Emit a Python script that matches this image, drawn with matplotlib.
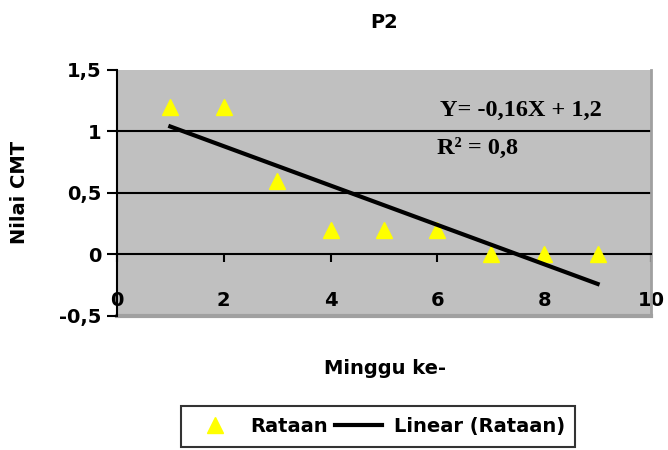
import numpy as np
import matplotlib.pyplot as plt

# data
minggu = [1, 2, 3, 4, 5, 6, 7, 8, 9]
rataan = [1.2, 1.2, 0.6, 0.2, 0.2, 0.2, 0.0, 0.0, 0.0]
xticks = [0, 2, 4, 6, 8, 10]
yticks = [-0.5, 0, 0.5, 1, 1.5]
ytick_labels = ['-0,5', '0', '0,5', '1', '1,5']

plt.rcParams['font.family'] = ['DejaVu Sans']
plt.rcParams['font.weight'] = 'bold'
fs = 14

fig = plt.figure(figsize=(6.68, 4.5), dpi=100)
ax = fig.add_axes([0.175, 0.298, 0.7996, 0.5466])
ax.set_facecolor('#c0c0c0')

# linear trend from the data
slope, intercept = np.polyfit(minggu, rataan, 1)
xs = np.array([minggu[0], minggu[-1]])
ax.plot(minggu, rataan, linestyle='none', marker='^', color='#ffff00',
        markersize=12, markeredgecolor='#ffff00', label='Rataan', zorder=3)
ax.plot(xs, slope * xs + intercept, color='black', linewidth=3,
        label='Linear (Rataan)', zorder=4)

ax.set_xlim(0, 10)
ax.set_ylim(-0.5, 1.5)
for yv in [0.5, 1]:
    ax.axhline(yv, color='black', linewidth=1.5, zorder=1)

ax.spines['bottom'].set_position(('data', 0))
ax.spines['bottom'].set_linewidth(1.5)
ax.spines['left'].set_linewidth(1.5)
ax.spines['top'].set_visible(False)
ax.spines['right'].set_color('#a0a0a0')
ax.spines['right'].set_linewidth(2)
# bottom edge of the plot area
ax.axhline(-0.5, color='#a0a0a0', linewidth=3, zorder=1, clip_on=False)

ax.set_xticks(xticks)
ax.set_xticklabels([str(v) for v in xticks], fontweight='bold', fontsize=fs)
ax.set_yticks(yticks)
ax.set_yticklabels(ytick_labels, fontweight='bold', fontsize=fs)
ax.tick_params(axis='x', direction='out', length=6, width=1.5, pad=20)
ax.tick_params(axis='y', direction='out', length=7, width=1.5, pad=4)

ax.set_title('P2', fontweight='bold', fontsize=fs, pad=30)
ax.set_ylabel('Nilai CMT', fontweight='bold', fontsize=fs, labelpad=22)
fig.text(0.577, 0.182, 'Minggu ke-', ha='center', va='center',
         fontweight='bold', fontsize=fs)

ax.text(0.605, 0.835, 'Y= -0,16X + 1,2', transform=ax.transAxes,
        family='Liberation Serif', fontweight='bold', fontsize=17.5,
        ha='left', va='center')
ax.text(0.599, 0.68, 'R\u00b2 = 0,8', transform=ax.transAxes,
        family='Liberation Serif', fontweight='bold', fontsize=17.5,
        ha='left', va='center')

leg = fig.legend(loc='center', bbox_to_anchor=(0.566, 0.052), ncol=2,
                 frameon=True, fancybox=False, edgecolor='black',
                 prop={'weight': 'bold', 'size': 14}, borderpad=0.55,
                 handlelength=2.4, columnspacing=0.4, handletextpad=0.6)
leg.get_frame().set_linewidth(1.5)

fig.savefig('out.png', dpi=100)
